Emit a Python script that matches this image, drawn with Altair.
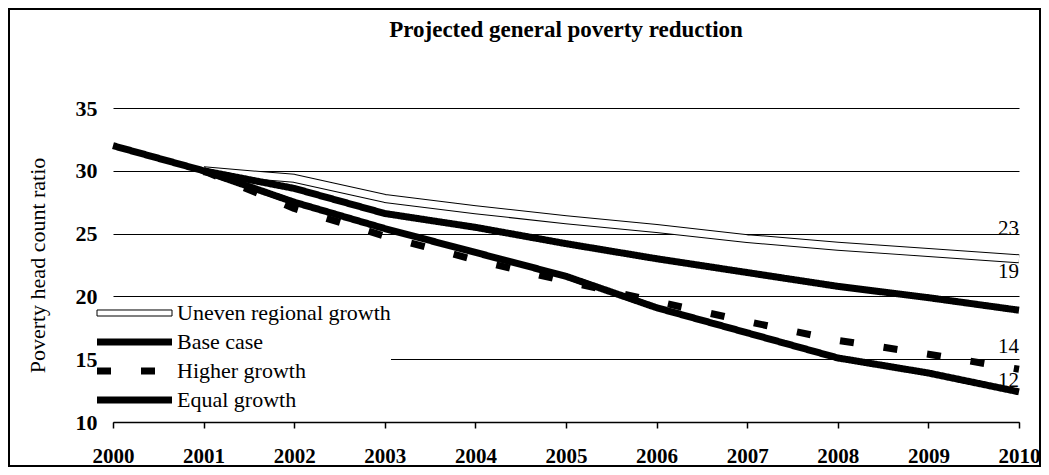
import altair as alt
import pandas as pd

# ---------------- data ----------------
years = [2000, 2001, 2002, 2003, 2004, 2005, 2006, 2007, 2008, 2009, 2010]
series_names = ["Uneven regional growth", "Base case", "Higher growth", "Equal growth"]
uneven_regional = [None, 30.0, 29.4, 27.8, 26.9, 26.1, 25.4, 24.6, 24.0, 23.5, 23.0]
base_case = [32.0, 30.0, 28.6, 26.6, 25.5, 24.2, 23.0, 21.9, 20.8, 19.9, 18.9]
higher_growth = [None, 30.0, 27.0, 24.8, 22.9, 21.2, 19.6, 18.0, 16.5, 15.4, 14.2]
equal_growth = [None, 30.0, 27.5, 25.4, 23.5, 21.6, 19.1, 17.1, 15.1, 13.9, 12.4]
y_ticks = [10, 15, 20, 25, 30, 35]
title_text = "Projected general poverty reduction"
y_title = "Poverty head count ratio"

rows = []
last_rows = []
for name, vals in zip(series_names, [uneven_regional, base_case, higher_growth, equal_growth]):
    for yr, v in zip(years, vals):
        if v is not None:
            rows.append({"year": yr, "value": v, "series": name})
    last_rows.append({"year": years[-1], "value": vals[-1], "series": name,
                      "label": str(int(round(vals[-1])))})
df = pd.DataFrame(rows)
df_last = pd.DataFrame(last_rows)

# ---------------- style ----------------
SERIF = "Liberation Serif, Times New Roman, serif"
W, H = 906, 314
PAD = {"left": 105, "top": 100, "right": 22, "bottom": 45}
label_dy = {"Uneven regional growth": -24, "Base case": -32,
            "Higher growth": -16, "Equal growth": -5}
UNEVEN = series_names[0]

x_enc = alt.X("year:Q",
              scale=alt.Scale(domain=[2000, 2010], nice=False, zero=False),
              axis=alt.Axis(values=years, format="d", title=None, grid=False,
                            labelFont=SERIF, labelFontWeight="bold", labelFontSize=21,
                            labelColor="black", labelFlush=False, labelOverlap=False,
                            labelPadding=17, domainColor="black", domainWidth=1.5,
                            tickColor="black", tickSize=6, tickWidth=1.5))
y_enc = alt.Y("value:Q",
              scale=alt.Scale(domain=[10, 35], nice=False, zero=False),
              axis=alt.Axis(values=y_ticks, title=y_title, grid=True, gridColor="black",
                            gridWidth=1, gridOpacity=1, domain=False, ticks=False,
                            tickSize=0, labelPadding=16, labelFont=SERIF,
                            labelFontWeight="bold", labelFontSize=22, labelColor="black",
                            titleFont=SERIF, titleFontSize=22, titleFontWeight="normal",
                            titleColor="black", titleAngle=270, titleX=-76, titleY=H / 2,
                            titleAlign="center", titleBaseline="middle"))

legend_common = dict(title=None, orient="none", legendX=-16, legendY=194,
                     symbolSize=196, labelFont=SERIF, labelFontSize=22,
                     labelOffset=58, rowPadding=1, padding=0, labelLimit=0)

legend_main = alt.Legend(symbolType="M-1.571,0H9.143", symbolStrokeWidth=7,
                         labelColor="black", fillColor="white", zindex=0,
                         **legend_common)
legend_uneven = alt.Legend(symbolType="M-1.571,-0.43H9.143V0.43H-1.571Z",
                           symbolStrokeWidth=1, symbolFillColor="white",
                           labelColor="transparent", zindex=1, **legend_common)

base = alt.Chart(df)

frame = alt.Chart(pd.DataFrame({"f": [1]})).mark_rect(
    filled=False, stroke="black", strokeWidth=2
).encode(x=alt.value(-104), x2=alt.value(W + PAD["right"] - 1),
         y=alt.value(-99), y2=alt.value(H + 44))

uneven_outline = base.transform_filter(alt.datum.series == UNEVEN).mark_line(
    strokeWidth=9, strokeCap="butt", strokeJoin="round"
).encode(
    x=x_enc, y=y_enc,
    color=alt.Color("series:N", scale=alt.Scale(domain=[UNEVEN], range=["black"]),
                    legend=legend_uneven),
)
uneven_inner = base.transform_filter(alt.datum.series == UNEVEN).mark_line(
    strokeWidth=7, strokeCap="butt", strokeJoin="round", color="white"
).encode(x=x_enc, y=y_enc)

main_lines = base.transform_filter(alt.datum.series != UNEVEN).mark_line(
    strokeWidth=7, strokeCap="butt", strokeJoin="round"
).encode(
    x=x_enc, y=y_enc,
    color=alt.Color("series:N",
                    scale=alt.Scale(domain=series_names,
                                    range=["white", "black", "black", "black"]),
                    legend=legend_main),
    strokeDash=alt.StrokeDash("series:N",
                              scale=alt.Scale(domain=series_names,
                                              range=[[1, 0], [1, 0], [14, 30], [1, 0]]),
                              legend=legend_main),
)

label_layers = []
for name in series_names:
    label_layers.append(
        alt.Chart(df_last).transform_filter(alt.datum.series == name).mark_text(
            align="right", baseline="alphabetic", dy=label_dy[name],
            font=SERIF, fontSize=21, color="black"
        ).encode(x=x_enc, y=y_enc, text="label:N")
    )

chart = alt.layer(frame, uneven_outline, uneven_inner, main_lines, *label_layers).resolve_scale(
    color="independent", strokeDash="independent"
).properties(
    width=W, height=H,
    autosize=alt.AutoSizeParams(type="none"),
    padding=PAD,
    background="white",
    title=alt.TitleParams(title_text, font=SERIF, fontSize=23, fontWeight="bold",
                          color="black", anchor="middle", frame="group",
                          baseline="bottom", offset=0, dy=57),
).configure_view(stroke="transparent")

chart.save("out.html", embed_options={"renderer": "svg", "actions": False})
